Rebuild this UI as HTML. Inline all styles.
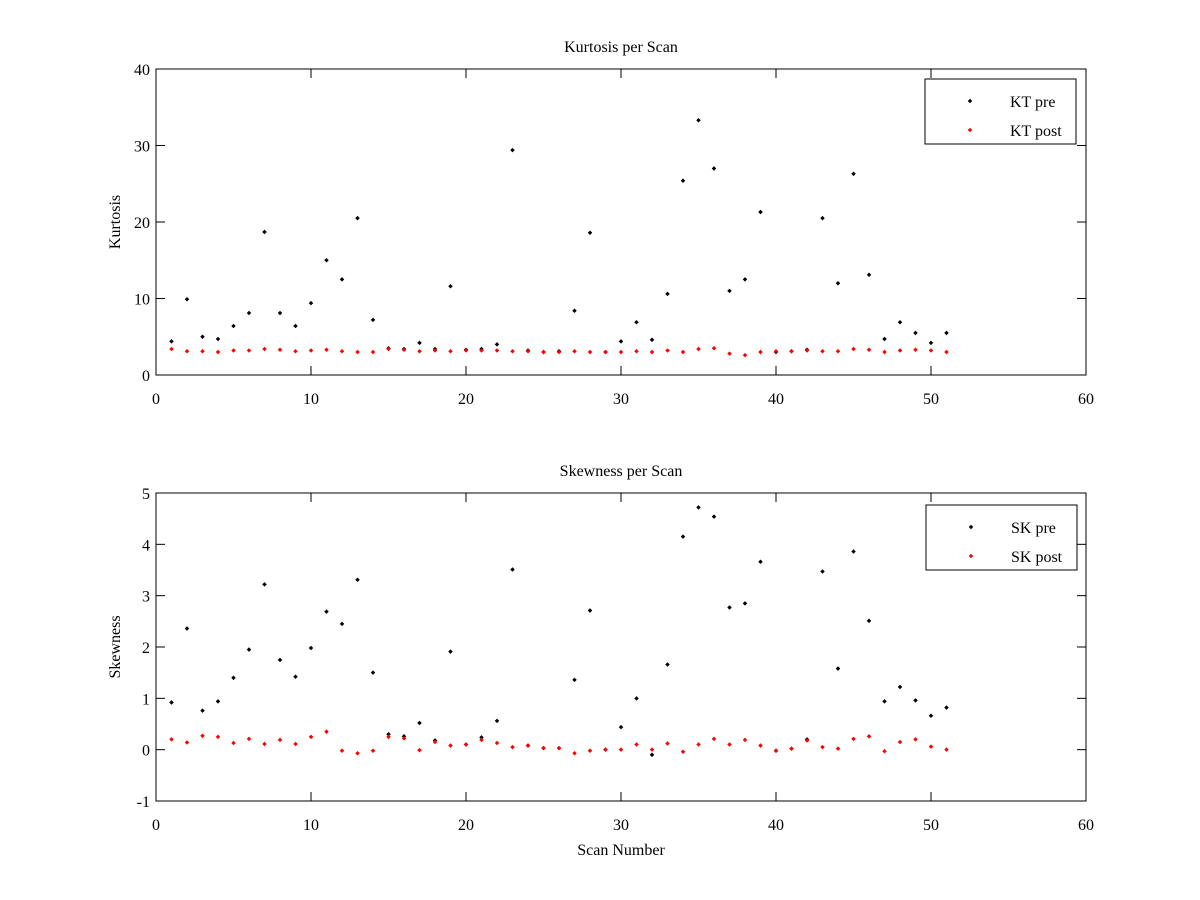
<!DOCTYPE html>
<html><head><meta charset="utf-8"><style>
html,body{margin:0;padding:0;background:#fff;}
svg{display:block;font-family:"Liberation Serif",serif;}
</style></head><body>
<svg id="fig" width="1200" height="900" viewBox="0 0 1200 900"></svg>
<script>
const scans = Array.from({length:51},(_,i)=>i+1);
const ktPre = [4.4,9.9,5.0,4.7,6.4,8.1,18.7,8.1,6.4,9.4,15.0,12.5,20.5,7.2,3.5,3.4,4.2,3.4,11.6,3.3,3.4,4.0,29.4,3.2,3.0,3.1,8.4,18.6,3.0,4.4,6.9,4.6,10.6,25.4,33.3,27.0,11.0,12.5,21.3,3.0,3.1,3.3,20.5,12.0,26.3,13.1,4.7,6.9,5.5,4.2,5.5];
const ktPost = [3.4,3.1,3.1,3.0,3.2,3.2,3.4,3.3,3.1,3.2,3.3,3.1,3.0,3.0,3.4,3.3,3.1,3.2,3.1,3.2,3.2,3.2,3.1,3.1,3.0,3.0,3.1,3.0,3.0,3.0,3.1,3.0,3.2,3.0,3.4,3.5,2.8,2.6,3.0,3.1,3.1,3.2,3.1,3.1,3.4,3.3,3.0,3.2,3.3,3.2,3.0];
const skPre = [0.92,2.36,0.76,0.94,1.4,1.95,3.22,1.75,1.42,1.98,2.69,2.45,3.31,1.5,0.3,0.26,0.52,0.18,1.91,0.1,0.24,0.56,3.51,0.08,0.03,0.03,1.36,2.71,0.0,0.44,1.0,-0.1,1.66,4.15,4.72,4.54,2.77,2.85,3.66,-0.02,0.02,0.2,3.47,1.58,3.86,2.51,0.94,1.22,0.96,0.66,0.82];
const skPost = [0.2,0.14,0.27,0.25,0.13,0.21,0.11,0.19,0.11,0.25,0.35,-0.02,-0.07,-0.02,0.25,0.22,-0.01,0.15,0.08,0.1,0.19,0.13,0.05,0.08,0.03,0.03,-0.07,-0.02,0.0,0.0,0.1,0.0,0.12,-0.04,0.1,0.21,0.1,0.19,0.08,-0.02,0.02,0.18,0.05,0.02,0.21,0.26,-0.03,0.15,0.2,0.06,0.0];
const xTicks = [0,10,20,30,40,50,60];
const ktTicks = [0,10,20,30,40];
const skTicks = [-1,0,1,2,3,4,5];

const NS="http://www.w3.org/2000/svg";
const svg=document.getElementById('fig');
function mk(tag,attrs,parent){const e=document.createElementNS(NS,tag);for(const k in attrs)e.setAttribute(k,attrs[k]);(parent||svg).appendChild(e);return e;}

function panel(cfg){
  const {L,R,T,B,ymin,ymax,yTicks,pre,post,title,ylabel,xlabel,leg,name}=cfg;
  const g=mk('g',{});
  
  
  const xs=v=>L+(v-0)/(60-0)*(R-L);
  const ys=v=>B-(v-ymin)/(ymax-ymin)*(B-T);
  const box=mk('rect',{x:L,y:T,width:R-L,height:B-T,fill:'none',stroke:'#000','stroke-width':1},g);
  
  
  xTicks.forEach(t=>{
    const x=xs(t);
    mk('line',{x1:x,x2:x,y1:B,y2:B-9,stroke:'#000'},g);
    mk('line',{x1:x,x2:x,y1:T,y2:T+9,stroke:'#000'},g);
    const tx=mk('text',{x:x,y:B+29,'font-size':16,'text-anchor':'middle'},g);
    tx.textContent=t;
    
    
  });
  yTicks.forEach(t=>{
    const y=ys(t);
    mk('line',{x1:L,x2:L+9,y1:y,y2:y,stroke:'#000'},g);
    mk('line',{x1:R,x2:R-9,y1:y,y2:y,stroke:'#000'},g);
    const tx=mk('text',{x:L-6,y:y+6,'font-size':16,'text-anchor':'end'},g);
    tx.textContent=t;
    
    
  });
  const tt=mk('text',{x:(L+R)/2,y:T-17,'font-size':16,'text-anchor':'middle'},g);
  tt.textContent=title;
  
  
  const yl=mk('text',{x:0,y:0,'font-size':16,'text-anchor':'middle',transform:`translate(120,${(T+B)/2}) rotate(-90)`},g);
  yl.textContent=ylabel;
  
  
  if(xlabel){
    const xl=mk('text',{x:(L+R)/2,y:B+54,'font-size':16,'text-anchor':'middle'},g);
    xl.textContent=xlabel;
    
    
  }
  function dots(arr,color,nm){
    arr.forEach((v,i)=>{
      const d=mk('rect',{x:xs(scans[i])-1.6,y:ys(v)-1.6,width:3.2,height:3.2,fill:color,transform:`rotate(45 ${xs(scans[i])} ${ys(v)})`},g);
      
      
    });
  }
  dots(pre,'#000',name+'-pre');
  dots(post,'#f00',name+'-post');
  const lg=mk('g',{},g);
  
  
  mk('rect',{x:leg.x,y:leg.y,width:151,height:65,fill:'#fff',stroke:'#000'},lg);
  [[leg.a,'#000',22],[leg.b,'#f00',51]].forEach(([lab,col,dy])=>{
    const cx=leg.x+45,cy=leg.y+dy;
    mk('rect',{x:cx-1.6,y:cy-1.6,width:3.2,height:3.2,fill:col,transform:`rotate(45 ${cx} ${cy})`},lg);
    const t=mk('text',{x:leg.x+85,y:cy+6,'font-size':16},lg);
    t.textContent=lab;
    
    
  });
}
panel({L:156,R:1086,T:69,B:375,ymin:0,ymax:40,yTicks:ktTicks,pre:ktPre,post:ktPost,title:'Kurtosis per Scan',ylabel:'Kurtosis',name:'kurtosis',leg:{x:925,y:79,a:'KT pre',b:'KT post'}});
panel({L:156,R:1086,T:493,B:801,ymin:-1,ymax:5,yTicks:skTicks,pre:skPre,post:skPost,title:'Skewness per Scan',ylabel:'Skewness',xlabel:'Scan Number',name:'skewness',leg:{x:926,y:505,a:'SK pre',b:'SK post'}});
</script>
</body></html>
